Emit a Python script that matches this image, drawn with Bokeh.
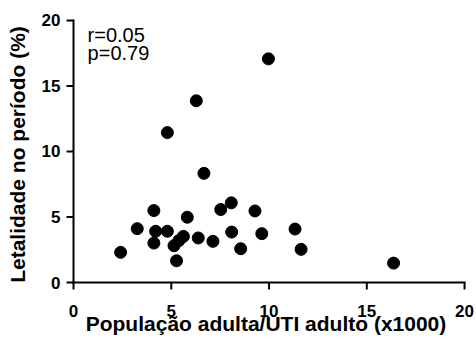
from bokeh.plotting import figure
from bokeh.models import Range1d, FixedTicker, Label
from bokeh.embed import file_html
from bokeh.resources import INLINE

# Data
pop_x = [2.41, 3.26, 4.11, 4.20, 4.11, 4.80, 5.82, 5.14, 5.39, 5.62, 5.27, 6.38,
         7.13, 7.53, 8.07, 8.09, 8.55, 9.28, 9.63, 11.33, 11.64, 16.37, 9.97, 6.28,
         4.80, 6.67]
let_y = [2.30, 4.11, 5.49, 3.91, 3.01, 3.91, 4.98, 2.81, 3.20, 3.52, 1.66, 3.40,
         3.14, 5.57, 6.08, 3.85, 2.58, 5.46, 3.73, 4.08, 2.53, 1.48, 17.07, 13.87,
         11.44, 8.33]
ticks = [0, 5, 10, 15, 20]
stats_text = ["r=0.05", "p=0.79"]
stats_x = [0.72, 0.72]
stats_y = [19.75, 18.35]

FONT = "Liberation Sans"
FW, FH = 401, 272
XR = (-0.41, 20.1)
YR = (-0.61, 20.15)

p = figure(frame_width=FW, frame_height=FH, output_backend="svg", toolbar_location=None,
           x_range=Range1d(*XR), y_range=Range1d(*YR),
           min_border_left=65, min_border_right=8, min_border_top=18, min_border_bottom=52)
p.outline_line_color = None
p.xgrid.visible = False
p.ygrid.visible = False

# axis lines and outward ticks as filled bars on the chart's own scales
px = (XR[1] - XR[0]) / FW   # data units per screen pixel, x
py = (YR[1] - YR[0]) / FH   # data units per screen pixel, y
lo, hi = ticks[0], ticks[-1]
n = len(ticks)
# axis lines
p.quad(left=[lo - px, lo - px], right=[lo + px, hi + px],
       bottom=[lo - py, lo - py], top=[hi + py, lo + py],
       fill_color="black", line_color=None)
# y ticks (outward, left)
p.quad(left=[lo - 7 * px] * n, right=[lo] * n,
       bottom=[t - py for t in ticks], top=[t + py for t in ticks],
       fill_color="black", line_color=None)
# x ticks (outward, down)
p.quad(left=[t - px for t in ticks], right=[t + px for t in ticks],
       bottom=[lo - 7 * py] * n, top=[lo] * n,
       fill_color="black", line_color=None)

p.scatter(pop_x, let_y, size=12, color="black", line_color="black")

for t, xx, yy in zip(stats_text, stats_x, stats_y):
    p.add_layout(Label(x=xx, y=yy, text=t, text_font=FONT, text_font_size="20px",
                       text_baseline="top", text_align="left", text_color="black"))

p.axis.ticker = FixedTicker(ticks=ticks)
p.axis.minor_tick_line_color = None
p.axis.axis_line_color = None
p.axis.major_tick_line_color = None
p.axis.major_tick_in = 0
p.axis.major_tick_out = 0
p.axis.major_label_text_font = FONT
p.axis.major_label_text_font_style = "bold"
p.axis.major_label_text_font_size = "17px"
p.axis.major_label_text_color = "black"
p.axis.axis_label_text_font = FONT
p.axis.axis_label_text_font_style = "bold"
p.axis.axis_label_text_font_size = "21px"
p.axis.axis_label_text_color = "black"

p.xaxis.axis_label = "População adulta/UTI adulto (x1000)"
p.yaxis.axis_label = "Letalidade no período (%)"
p.xaxis.major_label_standoff = 14
p.yaxis.major_label_standoff = 5
p.xaxis.axis_label_standoff = -8
p.yaxis.axis_label_standoff = 10

open("out.html", "w").write(file_html(p, INLINE))
